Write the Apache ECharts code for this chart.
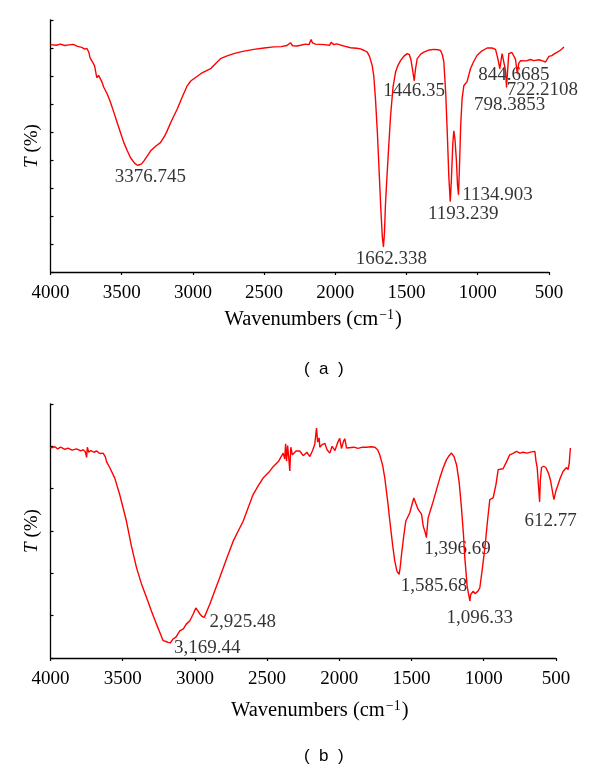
<!DOCTYPE html>
<html>
<head>
<meta charset="utf-8">
<script src="https://cdn.jsdelivr.net/npm/echarts@6/dist/echarts.min.js"></script>
<style>html,body{margin:0;padding:0;background:#fff}#c{width:600px;height:773px}</style>
</head>
<body>
<div id="c"></div>
<script>
// ---------- Data: spectrum (a) ----------
const wnA = [4000,3960,3930,3900,3870,3840,3810,3780,3760,3745,3731,3722,3712,3700,3690,3675,3662,3650,3640,3626,3600,3579,3555,3532,3510,3485,3460,3438,3410,3390,3376,3360,3345,3320,3298,3260,3228,3200,3181,3150,3110,3075,3040,3015,2994,2940,2900,2876,2840,2806,2760,2713,2650,2572,2500,2432,2380,2340,2315,2300,2270,2244,2210,2185,2170,2160,2140,2127,2080,2040,2030,2022,2010,1990,1960,1930,1893,1850,1823,1800,1776,1760,1741,1730,1718,1705,1694,1680,1670,1662,1655,1648,1640,1625,1612,1595,1577,1560,1542,1520,1495,1480,1470,1460,1446,1437,1425,1400,1378,1340,1308,1280,1261,1248,1238,1225,1214,1203,1193,1185,1175,1168,1160,1150,1142,1135,1128,1120,1110,1098,1085,1075,1051,1030,1004,970,934,900,875,860,845,835,829,815,805,798,790,782,760,747,735,722,712,699,660,630,606,570,540,524,510,500,480,460,441,420,405,395];
const tA = [81.2,81.0,81.4,80.9,81.1,81.3,80.6,80.2,79.6,79.9,78.5,76.5,77.2,74.6,73.5,69.4,70.2,69.8,68.0,66.0,63.4,60.6,57.0,53.4,50.0,46.2,43.2,40.8,38.9,38.1,38.0,38.6,39.6,41.5,43.2,45.0,46.2,48.4,50.4,54.0,58.2,62.5,66.5,68.2,69.0,71.0,72.0,72.6,74.5,76.2,77.2,78.0,78.8,79.5,80.0,80.4,80.5,80.9,81.9,80.8,80.7,81.0,81.4,81.2,83.0,81.8,81.4,81.0,81.2,81.0,82.0,82.4,81.2,81.5,81.0,80.6,80.1,79.9,79.7,79.2,78.5,77.0,73.7,70.0,61.8,50.0,37.8,22.0,12.5,9.0,14.0,24.0,31.8,45.0,55.8,66.0,71.4,73.8,75.5,77.0,78.0,77.6,76.0,73.0,68.3,72.5,76.2,77.8,78.5,79.3,79.5,79.4,79.1,77.5,75.0,64.0,49.8,34.0,25.2,33.0,46.0,50.4,47.5,40.0,31.0,27.6,38.0,52.0,61.8,66.5,67.0,68.0,72.6,75.0,77.4,79.0,80.0,80.0,79.5,76.5,72.6,76.0,78.0,77.6,72.0,66.0,72.0,78.0,78.4,78.5,76.0,70.8,74.5,75.5,75.4,75.9,75.5,75.8,75.3,75.0,76.2,77.0,77.3,78.0,78.5,79.2,79.8,80.4];
const peakWnA = [3376,1662,1446,1193,1135,845,798,722];
const peakTA = [38.0,9.0,68.3,25.2,27.6,72.6,66.0,70.8];
const peakTextA = ['3376.745','1662.338','1446.35','1193.239','1134.903','844.6685','798.3853','722.2108'];

// ---------- Data: spectrum (b) ----------
const wnB = [4000,3970,3950,3930,3900,3880,3850,3820,3790,3774,3760,3750,3745,3735,3720,3700,3680,3660,3636,3620,3612,3590,3555,3520,3474,3440,3404,3370,3335,3300,3266,3240,3220,3200,3186,3170,3151,3130,3105,3080,3060,3035,3010,2994,2980,2966,2950,2935,2925,2897,2870,2828,2780,2735,2700,2666,2630,2597,2560,2528,2490,2458,2420,2389,2378,2372,2365,2358,2350,2343,2336,2325,2300,2274,2250,2225,2204,2185,2170,2158,2150,2140,2135,2120,2100,2085,2066,2050,2030,2010,1997,1985,1970,1962,1950,1939,1900,1870,1840,1812,1780,1754,1735,1720,1700,1685,1665,1650,1632,1616,1600,1586,1580,1569,1555,1540,1512,1495,1484,1470,1454,1431,1418,1408,1397,1385,1370,1350,1325,1304,1280,1258,1240,1223,1205,1188,1170,1154,1140,1131,1115,1096,1090,1073,1060,1050,1040,1027,1010,992,975,958,935,915,900,866,840,820,800,773,750,727,700,670,646,638,630,613,608,600,585,570,550,538,530,514,500,485,470,450,440,427,416,408,400];
const tB = [49.6,49.9,49.4,49.8,49.3,49.6,49.1,49.4,48.9,49.2,48.8,47.4,49.8,48.6,49.0,48.6,48.9,48.3,48.4,47.5,46.4,45.0,42.5,38.5,32.3,26.5,21.3,17.5,14.3,11.0,8.0,5.8,4.1,3.9,3.7,3.6,4.5,5.0,6.4,6.9,8.0,8.8,10.5,11.8,11.2,10.4,9.8,9.6,9.4,12.7,15.2,19.0,23.5,27.6,30.0,32.3,35.6,38.6,40.8,42.5,43.8,45.2,46.5,48.4,47.0,50.6,46.5,50.2,47.2,44.2,49.8,48.0,48.9,48.9,47.8,48.6,47.6,49.0,50.5,54.3,51.0,52.0,49.8,50.4,50.7,49.2,48.4,50.0,49.0,51.0,51.9,49.5,51.3,51.8,49.6,49.6,49.8,49.5,49.8,49.8,49.9,49.8,49.2,48.0,45.5,42.5,37.0,32.3,27.0,22.9,20.4,19.8,21.0,24.5,28.5,32.3,34.3,36.5,37.8,36.5,35.1,34.0,31.0,30.0,28.5,33.1,34.8,37.0,40.0,42.5,45.0,46.8,47.8,48.4,47.5,45.6,41.5,35.4,29.0,23.7,17.0,13.5,15.0,15.8,15.2,15.1,15.8,16.6,21.0,26.0,32.0,37.4,37.8,41.0,44.5,44.7,46.5,48.0,48.3,48.8,48.4,48.6,48.4,48.7,48.8,46.5,45.0,36.9,42.0,45.0,45.3,45.0,43.5,42.0,41.7,37.4,39.5,41.0,42.5,44.1,44.5,45.0,44.5,46.0,49.6];
const peakWnB = [3170,2925,1586,1397,1096,613];
const peakTB = [3.6,9.4,19.8,28.5,13.5,36.9];
const peakTextB = ['3,169.44','2,925.48','1,585.68','1,396.69','1,096.33','612.77'];

// Axis ticks
const xTicks = [500,1000,1500,2000,2500,3000,3500,4000];
const xLo = 395, xHi = 4000;          // plotted range (spectra run past the last tick)
const yMaxA = 90, yMaxB = 60, yStep = 10;

// ---------- Styles (label offsets in px) ----------
const offA = [[11,11],[8,12],[0,10],[13,13],[39,0],[14,6],[3,18],[25,16]];
const offB = [[37,5],[37,4],[35,12],[31,12],[10,17],[11,19]];

const serif = 'Liberation Serif';
const zip = (a,b) => a.map((v,i)=>[v,b[i]]);
const labelData = (wn,t,txt,off) => wn.map((w,i)=>({
  value:[w,t[i]], name: txt[i],
  label:{offset: off[i]}
}));

function xAxis(gi, gap, shift){
  return {
    gridIndex: gi, type:'value', min:xLo, max:xHi, inverse:true,
    axisLine:{show:false},
    axisTick:{show:true, inside:false, length:3, customValues:xTicks, lineStyle:{color:'#000', width:1.2}},
    axisLabel:{color:'#000', fontFamily:serif, fontSize:19, margin:12, customValues:xTicks, formatter:v=>String(v)},
    splitLine:{show:false},
    name:'{a|Wavenumbers (cm}{s|−1}{a|)}', nameLocation:'middle', nameGap:gap,
    nameTextStyle:{padding:[0,0,0,shift], rich:{
      a:{fontFamily:serif, fontSize:20.5, color:'#000'},
      s:{fontFamily:serif, fontSize:14, color:'#000', verticalAlign:'top', padding:[0,1,10,1]}
    }}
  };
}
function yAxis(gi, max){
  return {
    gridIndex: gi, type:'value', min:0, max:max, interval:yStep,
    axisLine:{show:true, lineStyle:{color:'#000', width:1.3}},
    axisTick:{show:true, inside:true, length:3, lineStyle:{color:'#000', width:1.2}},
    axisLabel:{show:false},
    splitLine:{show:false},
    name:'{i|T}{n| (%)}', nameLocation:'middle', nameRotate:90, nameGap:9,
    nameTextStyle:{rich:{
      i:{fontFamily:serif, fontSize:19, fontStyle:'italic', color:'#000'},
      n:{fontFamily:serif, fontSize:19, color:'#000'}
    }}
  };
}
function lineSeries(idx, data){
  return {type:'line', xAxisIndex:idx, yAxisIndex:idx, data:data, showSymbol:false, symbol:'none',
    lineStyle:{color:'#ff0000', width:1.4}, animation:false, silent:true};
}
function labelSeries(idx, data){
  return {type:'scatter', xAxisIndex:idx, yAxisIndex:idx, data:data, symbolSize:1,
    itemStyle:{color:'#ff0000'}, animation:false, silent:true,
    label:{show:true, position:'inside', align:'center', verticalAlign:'middle',
      formatter:p=>p.name, color:'#000', fontFamily:serif, fontSize:19},
    // x-axis baseline from the first to the last tick
    markLine:{silent:true, symbol:'none', label:{show:false}, animation:false,
      lineStyle:{color:'#000', width:1.3, type:'solid'},
      data:[[{coord:[xTicks[xTicks.length-1],0]},{coord:[xTicks[0],0]}]]}
  };
}

const chart = echarts.init(document.getElementById('c'), null, {renderer:'canvas'});
chart.setOption({
  animation:false,
  backgroundColor:'#fff',
  grid:[
    {left:50.5, top:20, width:513.4, height:252},
    {left:50.5, top:404, width:520.6, height:254}
  ],
  xAxis:[xAxis(0,36,12), xAxis(1,41,18)],
  yAxis:[yAxis(0,yMaxA), yAxis(1,yMaxB)],
  series:[
    lineSeries(0, zip(wnA,tA)),
    labelSeries(0, labelData(peakWnA,peakTA,peakTextA,offA)),
    lineSeries(1, zip(wnB,tB)),
    labelSeries(1, labelData(peakWnB,peakTB,peakTextB,offB))
  ],
  graphic:[
    {type:'text', left:304, top:361, style:{text:'(  a  )', fontFamily:'Liberation Sans', fontSize:17, fill:'#000'}},
    {type:'text', left:304, top:748, style:{text:'(  b  )', fontFamily:'Liberation Sans', fontSize:17, fill:'#000'}}
  ]
});
</script>
</body>
</html>
